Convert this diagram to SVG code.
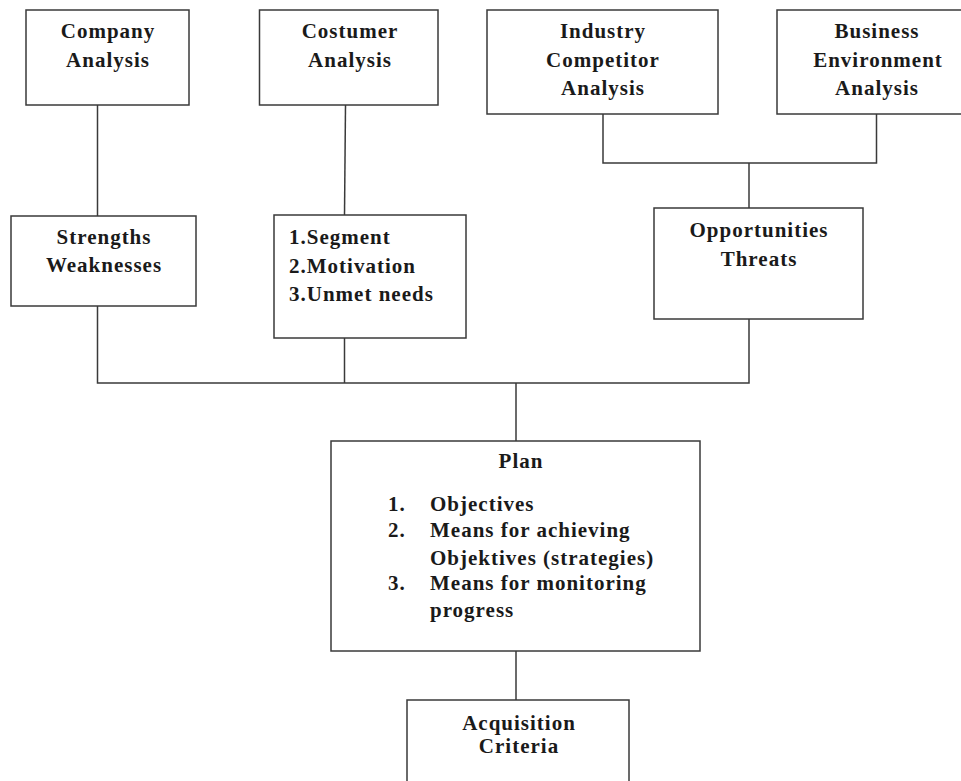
<svg xmlns="http://www.w3.org/2000/svg" width="961" height="781" viewBox="0 0 961 781">
<style>
.box{fill:#fff;stroke:#3a3a3a;stroke-width:1.5}
.ln{fill:none;stroke:#3a3a3a;stroke-width:1.5}
text{font-family:"Liberation Serif","Times New Roman",serif;font-weight:bold;font-size:21px;fill:#1a1a1a;letter-spacing:1px}
.c{text-anchor:middle}
</style>
<rect width="961" height="781" fill="#fff"/>
<g id="connectors">
<path class="ln" d="M97.5 105V306"/>
<path class="ln" d="M345.5 105L344.5 215"/>
<path class="ln" d="M603 114V163H876.5V114"/>
<path class="ln" d="M749 163V208"/>
<path class="ln" d="M97.5 306V383H749V319"/>
<path class="ln" d="M344.5 338V383"/>
<path class="ln" d="M516 383V441"/>
<path class="ln" d="M516 651V700"/>
</g>
<g id="company">
<rect class="box" x="26" y="10" width="163" height="95"/>
<text class="c" x="108" y="38">Company</text>
<text class="c" x="108" y="67">Analysis</text>
</g>
<g id="costumer">
<rect class="box" x="259.5" y="10" width="178.5" height="95"/>
<text class="c" x="350" y="38">Costumer</text>
<text class="c" x="350" y="67">Analysis</text>
</g>
<g id="industry">
<rect class="box" x="487" y="10" width="231" height="104"/>
<text class="c" x="603" y="38">Industry</text>
<text class="c" x="603" y="67">Competitor</text>
<text class="c" x="603" y="95">Analysis</text>
</g>
<g id="business">
<rect class="box" x="777" y="10" width="200" height="104"/>
<text class="c" x="877" y="38">Business</text>
<text class="c" x="878" y="67">Environment</text>
<text class="c" x="877" y="95">Analysis</text>
</g>
<g id="strengths">
<rect class="box" x="11" y="216" width="185" height="90"/>
<text class="c" x="104" y="244">Strengths</text>
<text class="c" x="104" y="272">Weaknesses</text>
</g>
<g id="segment">
<rect class="box" x="274" y="215" width="192" height="123"/>
<text x="289" y="244">1.Segment</text>
<text x="289" y="273">2.Motivation</text>
<text x="289" y="301">3.Unmet needs</text>
</g>
<g id="opportunities">
<rect class="box" x="654" y="208" width="209" height="111"/>
<text class="c" x="759" y="237">Opportunities</text>
<text class="c" x="759" y="266">Threats</text>
</g>
<g id="plan">
<rect class="box" x="331" y="441" width="369" height="210"/>
<text class="c" x="521" y="468">Plan</text>
<text x="388" y="511">1.</text><text x="430" y="511">Objectives</text>
<text x="388" y="537">2.</text><text x="430" y="537">Means for achieving</text>
<text x="430" y="565">Objektives (strategies)</text>
<text x="388" y="590">3.</text><text x="430" y="590">Means for monitoring</text>
<text x="430" y="617">progress</text>
</g>
<g id="acquisition">
<rect class="box" x="407" y="700" width="222" height="100"/>
<text class="c" x="519" y="730">Acquisition</text>
<text class="c" x="519" y="753">Criteria</text>
</g>
</svg>
